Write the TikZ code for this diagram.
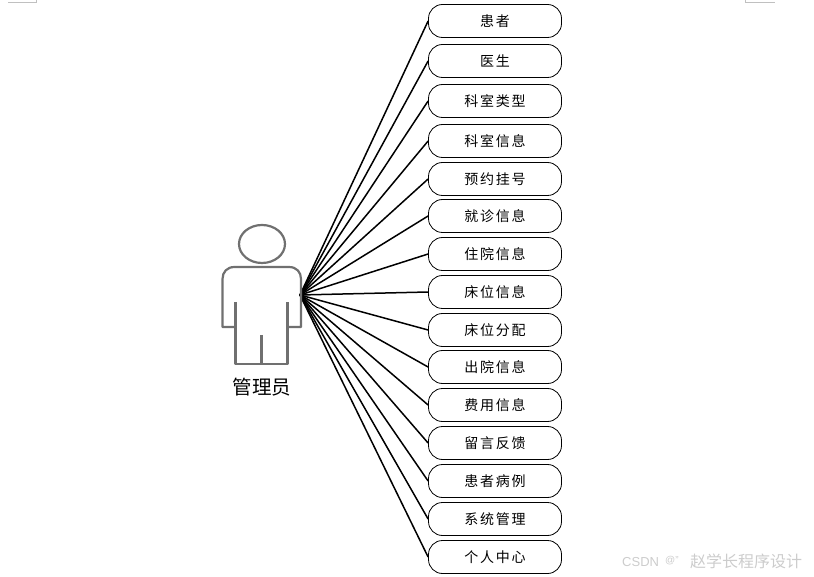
\documentclass[tikz,border=0pt]{standalone}
\usepackage{fontspec}
\newfontfamily\cjk[LetterSpace=12]{Noto Sans CJK SC}
\newfontfamily\cjklabel{Noto Sans CJK SC}
\setsansfont{Liberation Sans}
\definecolor{persongray}{HTML}{707070}
\definecolor{markgray}{HTML}{C0C0C0}
\definecolor{wmgray}{HTML}{CCCCCC}
\tikzset{
  x=1pt,y=-1pt,
  entity/.style={draw=black,line width=0.8pt,rounded corners=14pt,minimum width=133pt,minimum height=33pt,inner sep=0pt,font=\cjk\fontsize{14}{16}\selectfont,fill=white},
  link/.style={draw=black,line width=1.5pt},
  person/.style={draw=persongray,line width=2.2pt,line join=round},
  cropmark/.style={draw=markgray,line width=1pt}
}
\begin{document}
\begin{tikzpicture}
\useasboundingbox (0,0) rectangle (814,577);
\coordinate (hub) at (300,295);
\foreach \nm/\yy/\txt in {
  n1/21/患者,n2/61/医生,n3/101/科室类型,n4/141/科室信息,n5/179/预约挂号,
  n6/216/就诊信息,n7/254/住院信息,n8/292/床位信息,n9/330/床位分配,n10/367/出院信息,
  n11/405/费用信息,n12/443/留言反馈,n13/481/患者病例,n14/519/系统管理,n15/557/个人中心}{
  \node[entity] (\nm) at (495,\yy) {\txt};
  \draw[link] (hub) -- (\nm.west);
}
\draw[person] (262,244) ellipse [x radius=23, y radius=19];
\draw[person] (235.5,327) -- (222.5,327) -- (222.5,279) .. controls (222.5,272) and (227,267) .. (234.5,267) -- (289,267) .. controls (296.5,267) and (301,272) .. (301,279) -- (301,327) -- (287.5,327);
\draw[person] (235.5,302) -- (235.5,364) -- (287.5,364) -- (287.5,302);
\draw[person] (261.5,335) -- (261.5,364);
\node[font=\cjklabel\fontsize{19.5}{22}\selectfont] (admin) at (262,387) {管理员};
\draw[cropmark] (8,2.5) -- (36,2.5) -- (36,0);
\draw[cropmark] (745,0) -- (745,2.5) -- (775,2.5);
\node[anchor=west,inner sep=0pt,text=wmgray,font=\sffamily\fontsize{13}{15}\selectfont] (wm1) at (622,562) {CSDN};
\node[anchor=west,inner sep=0pt,text=wmgray,font=\sffamily\fontsize{10}{12}\selectfont] (wm2) at (665,561) {@"};
\node[anchor=west,inner sep=0pt,text=wmgray,font=\cjklabel\fontsize{16}{18}\selectfont] (wm3) at (690,561) {赵学长程序设计};
\end{tikzpicture}
\end{document}
